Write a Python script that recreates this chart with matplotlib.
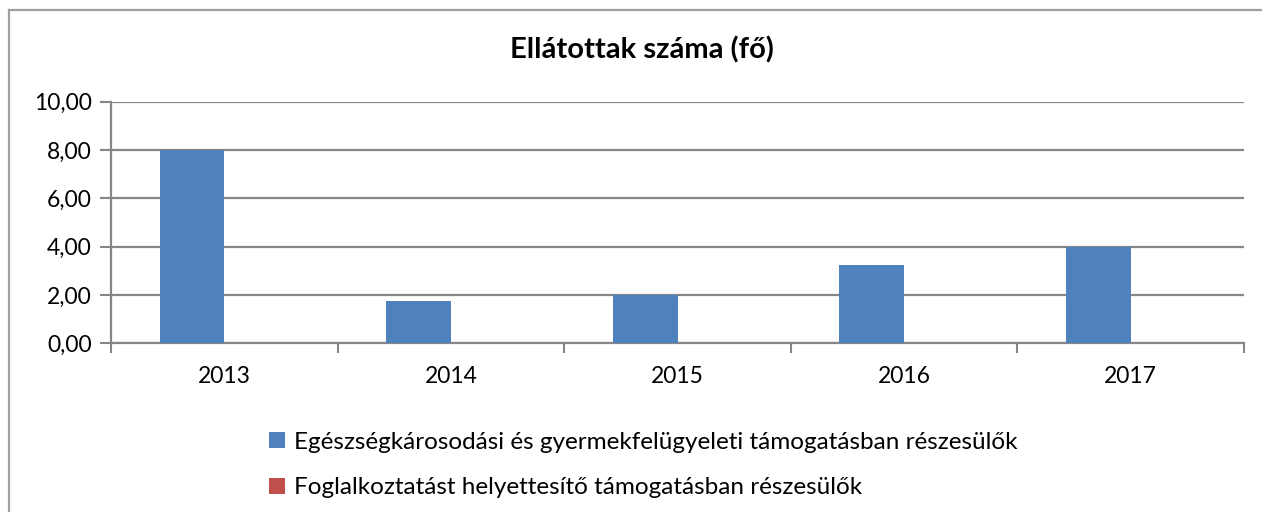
import matplotlib
matplotlib.use("Agg")
import matplotlib.pyplot as plt
from matplotlib.lines import Line2D
from matplotlib.patches import Patch
import numpy as np

years = ["2013", "2014", "2015", "2016", "2017"]
series_names = [
    "Egészségkárosodási és gyermekfelügyeleti támogatásban részesülők",
    "Foglalkoztatást helyettesítő támogatásban részesülők",
]
health_childcare = [8.0, 1.75, 2.0, 3.25, 4.0]
employment_sub = [0.0, 0.0, 0.0, 0.0, 0.0]
y_ticks = [0, 2, 4, 6, 8, 10]
title = "Ellátottak száma (fő)"

colors = ["#4F81BD", "#C0504D"]
grid_col = "#868686"

plt.rcParams["font.family"] = ["Lato", "DejaVu Sans"]

W, H = 1262, 512
fig = plt.figure(figsize=(W / 100, H / 100), dpi=100)
ax = fig.add_axes([111 / W, 1 - 343.3 / H, (1244 - 111) / W, (343.3 - 101.7) / H])

x = np.arange(len(years))
w = 1 / 3.5
ax.bar(x - w / 2, health_childcare, width=w, color=colors[0], zorder=3)
ax.bar(x + w / 2, employment_sub, width=w, color=colors[1], zorder=3)

ax.set_xlim(-0.5, len(years) - 0.5)
ax.set_ylim(0, 10)
ax.set_yticks(y_ticks)
ax.set_yticklabels([f"{v:.2f}".replace(".", ",") for v in y_ticks], fontsize=16.5)
ax.yaxis.grid(True, color=grid_col, linewidth=1.6, zorder=0)
ax.tick_params(axis="y", length=8, width=1.5, color=grid_col, pad=6)

ax.set_xticks(np.arange(len(years) + 1) - 0.5)
ax.set_xticklabels([])
ax.set_xticks(x, minor=True)
ax.set_xticklabels(years, minor=True, fontsize=16.5)
ax.tick_params(axis="x", which="major", length=7, width=1.5, color=grid_col)
ax.tick_params(axis="x", which="minor", length=0, pad=16)

for side in ["top", "right"]:
    ax.spines[side].set_visible(False)
for side in ["left", "bottom"]:
    ax.spines[side].set_color(grid_col)
    ax.spines[side].set_linewidth(1.6)

fig.text(642 / W, 1 - 50 / H, title, ha="center", va="center",
         fontsize=21, fontweight="bold")

handles = [Patch(facecolor=c, edgecolor="none") for c in colors]
fig.legend(handles, series_names, loc="upper left",
           bbox_to_anchor=(247 / W, 1 - 410 / H), frameon=False,
           fontsize=17.5, handlelength=0.65, handleheight=0.65,
           handletextpad=0.4, labelspacing=1.0)

# outer chart frame
fig.add_artist(Line2D([8.5 / W, 1.0], [1 - 10 / H, 1 - 10 / H],
                      color="#A0A0A0", linewidth=1.6, transform=fig.transFigure))
fig.add_artist(Line2D([8.5 / W, 8.5 / W], [0, 1 - 10 / H],
                      color="#A0A0A0", linewidth=1.6, transform=fig.transFigure))

fig.savefig("out.png", dpi=100)
